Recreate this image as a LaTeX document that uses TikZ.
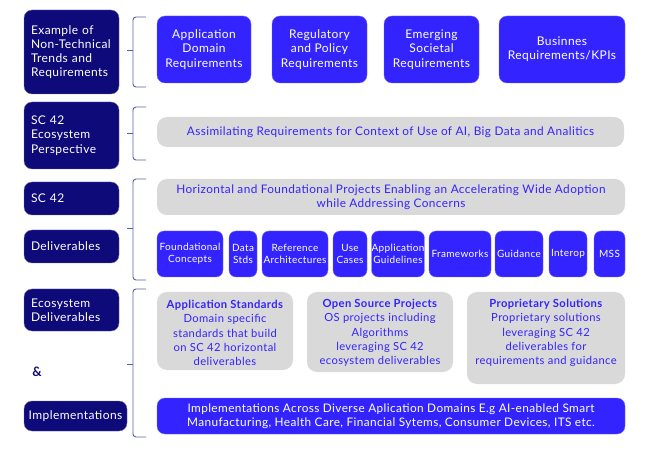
\documentclass[tikz,border=0pt]{standalone}
\usepackage{fontspec}
\setmainfont{Lato}[LetterSpace=3.5]
\definecolor{navy}{HTML}{0E0A7A}
\definecolor{vblue}{HTML}{3324FF}
\definecolor{lgray}{HTML}{D9D9D9}
\definecolor{brc}{HTML}{5B5EA6}
\begin{document}
\begin{tikzpicture}[x=1pt,y=-1pt,
  navybox/.style={fill=navy,draw=navy!60!white,line width=0.4pt,rounded corners=8pt,inner sep=0pt,text=white,font=\fontsize{12}{14.2}\selectfont},
  bluebox/.style={fill=vblue,draw=vblue!70!white,line width=0.4pt,rounded corners=8pt,inner sep=0pt,text=white,align=center,font=\fontsize{12}{14.2}\selectfont},
  smallbox/.style={fill=vblue,draw=vblue!70!white,line width=0.4pt,rounded corners=7pt,inner sep=0pt,text=white,align=center,minimum height=46,font=\fontsize{10}{12}\selectfont},
  graybox/.style={fill=lgray,draw=none,rounded corners=10pt,inner sep=0pt,text=vblue,align=center,font=\fontsize{11.8}{14}\selectfont},
  graytext/.style={inner sep=0pt,text=vblue,align=center,font=\fontsize{11.2}{14.2}\selectfont},
  brace/.style={draw=brc,line width=0.9pt,rounded corners=3pt}]
\useasboundingbox (0,0) rectangle (645,454);
% left column
\node[navybox,minimum width=95,minimum height=84,text width=81,align=left] (l1) at (71.5,52) {Example of\\Non-Technical\\Trends and\\Requirements};
\node[navybox,minimum width=95,minimum height=67,text width=81,align=left] (l2) at (71.5,135.5) {SC 42\\Ecosystem\\Perspective};
\node[navybox,minimum width=95,minimum height=33,text width=81,align=left] (l3) at (71.5,198.5) {SC 42};
\node[navybox,minimum width=95,minimum height=33,text width=81,align=left] (l4) at (71.5,246.5) {Deliverables};
\node[navybox,minimum width=95,minimum height=42,text width=81,align=left] (l5) at (71.5,310) {Ecosystem\\Deliverables};
\node[inner sep=0pt,text=navy,font=\fontsize{13}{14}\selectfont\bfseries] (amp) at (37,372) {\&};
\node[navybox,minimum width=103,minimum height=30,align=center] (l6) at (75.5,416) {Implementations};
% braces
\draw[brace] (146,17) -- (133,17) -- (133,87) -- (146,87);
\draw[brace] (127,50) -- (133,50);
\draw[brace] (146,107) -- (133,107) -- (133,160) -- (146,160);
\draw[brace] (127,133) -- (133,133);
\draw[brace] (146,179) -- (133,179) -- (133,280) -- (146,280);
\draw[brace] (127,228) -- (133,228);
\draw[brace] (146,289) -- (133,289) -- (133,437) -- (146,437);
\draw[brace] (127,364) -- (133,364);
% top row
\node[bluebox,minimum width=94,minimum height=67] (t1) at (204,49.5) {Application\\Domain\\Requirements};
\node[bluebox,minimum width=95,minimum height=67] (t2) at (319.5,49.5) {Regulatory\\and Policy\\Requirements};
\node[bluebox,minimum width=95,minimum height=67] (t3) at (431.5,49.5) {Emerging\\Societal\\Requirements};
\node[bluebox,minimum width=126,minimum height=67] (t4) at (562,49.5) {Businnes\\Requirements/KPIs};
% row 2
\node[graybox,minimum width=467,minimum height=30] (g2) at (390.5,132) {Assimilating Requirements for Context of Use of AI, Big Data and Analitics};
% row 3
\node[graybox,minimum width=468,minimum height=36] (g3) at (391,197) {Horizontal and Foundational Projects Enabling an Accelerating Wide Adoption\\while Addressing Concerns};
\node[smallbox,minimum width=66] (s1) at (190,254) {Foundational\\Concepts};
\node[smallbox,minimum width=28] (s2) at (243,254) {Data\\Stds};
\node[smallbox,minimum width=66] (s3) at (295,254) {Reference\\Architectures};
\node[smallbox,minimum width=34] (s4) at (350,254) {Use\\Cases};
\node[smallbox,minimum width=52] (s5) at (398,254) {Application\\Guidelines};
\node[smallbox,minimum width=62] (s6) at (460,254) {Frameworks};
\node[smallbox,minimum width=48] (s7) at (519,254) {Guidance};
\node[smallbox,minimum width=38] (s8) at (568,254) {Interop};
\node[smallbox,minimum width=31] (s9) at (609.5,254) {MSS};
% row 4
\node[graybox,minimum width=136,minimum height=78] (b1) at (225,331) {};
\node[graytext] (b1t) at (225,333) {\textbf{Application Standards}\\Domain specific\\standards that build\\on SC 42 horizontal\\deliverables};
\node[graybox,minimum width=146,minimum height=80] (b2) at (380,332) {};
\node[graytext] (b2t) at (380,333) {\textbf{Open Source Projects}\\OS projects including\\Algorithms\\leveraging SC 42\\ecosystem deliverables};
\node[graybox,minimum width=158,minimum height=92] (b3) at (546,338) {};
\node[graytext] (b3t) at (546,333) {\textbf{Proprietary Solutions}\\Proprietary solutions\\leveraging SC 42\\deliverables for\\requirements and guidance};
\node[bluebox,minimum width=468,minimum height=36,font=\fontsize{11.8}{14}\selectfont] (imp) at (391,416) {Implementations Across Diverse Aplication Domains E.g AI-enabled Smart\\Manufacturing, Health Care, Financial Sytems, Consumer Devices, ITS etc.};
\end{tikzpicture}
\end{document}
